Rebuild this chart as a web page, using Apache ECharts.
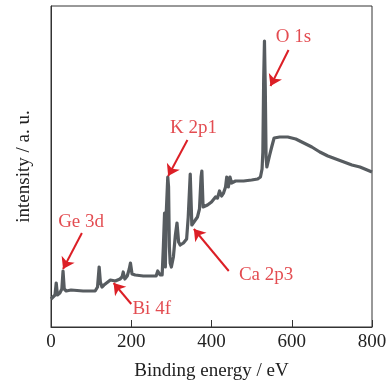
<!DOCTYPE html>
<html>
<head>
<meta charset="utf-8">
<script src="https://cdn.jsdelivr.net/npm/echarts@6/dist/echarts.min.js"></script>
<style>
  html, body { margin: 0; padding: 0; background: #fff; }
  #chart { width: 390px; height: 383px; }
</style>
</head>
<body>
<div id="chart"></div>
<script>
// XPS survey spectrum
const energy = [
  0, 5, 10, 13, 16, 22, 27, 30, 33, 38, 50, 80, 110, 116, 120, 123, 127, 132,
  148, 160, 172, 177, 180, 184, 190, 195, 198, 202, 210, 230, 250, 262, 266, 268,
  272, 277, 280, 283, 285, 287, 289, 291, 293, 295, 297, 300, 305, 310, 314, 318,
  322, 330, 338, 342, 347, 351, 355, 365, 370, 374, 376, 379, 383, 390, 400, 410,
  415, 420, 425, 430, 435, 438, 442, 446, 450, 460, 480, 500, 515, 522, 526, 528,
  530, 532, 534, 536, 538, 545, 550, 556, 570, 590, 610, 630, 650, 670, 690, 710,
  730, 750, 770, 800
];
const intensity = [
  28, 30, 32, 44, 32, 34, 38, 56, 38, 36, 37, 36, 36, 40, 60, 45, 40, 42,
  47, 46, 48, 50, 55, 48, 51, 58, 64, 53, 52, 51, 51, 51, 56, 57,
  52, 52, 80, 114, 60, 112, 110, 150, 140, 80, 64, 60, 70, 92, 104, 85,
  82, 84, 88, 110, 153, 102, 100, 110, 118, 150, 156, 120, 119, 122, 125, 130,
  129, 136, 131, 134, 140, 150, 140, 150, 144, 146, 146, 147, 148, 150, 158, 175,
  247, 286, 240, 170, 160, 172, 180, 189, 190, 190, 188, 184, 180, 175, 171, 168,
  165, 162, 160, 155
];

// peak annotations: label, label position, arrow start, arrow end (eV, a.u.)
const peakNames = ['O 1s', 'K 2p1', 'Ge 3d', 'Ca 2p3', 'Bi 4f'];
const labelPos = [[604, 290], [355, 199], [75, 105], [536, 52], [251, 18]];
const arrowFrom = [[592, 277], [340, 187], [77, 94], [443, 56], [200, 23]];
const arrowTo = [[547, 241], [292, 151], [30, 58], [356, 98], [156, 44]];

const xTicks = [0, 200, 400, 600, 800];

const FONT = "'Liberation Serif', 'Times New Roman', serif";
const RED = '#dc1f26';
const AXIS = '#333';

const chart = echarts.init(document.getElementById('chart'));

const spectrum = energy.map((e, i) => [e, intensity[i]]);

const option = {
  animation: false,
  grid: {
    left: 51, right: 18, top: 6, bottom: 56,
    outerBoundsMode: 'none',
    containLabel: false,
    show: true, borderColor: AXIS, borderWidth: 1
  },
  xAxis: {
    type: 'value',
    min: 0, max: 800, interval: 200,
    name: 'Binding energy / eV',
    nameLocation: 'middle',
    nameGap: 35,
    nameTextStyle: { fontFamily: FONT, fontSize: 19, color: '#222' },
    axisLine: { lineStyle: { color: AXIS, width: 1 } },
    axisTick: { inside: true, length: 7, lineStyle: { color: AXIS } },
    axisLabel: {
      fontFamily: FONT, fontSize: 19, color: '#222', margin: 6,
      formatter: v => xTicks.includes(v) ? String(v) : ''
    },
    splitLine: { show: false }
  },
  yAxis: {
    type: 'value',
    min: 0, max: 321,
    name: 'intensity / a. u.',
    nameLocation: 'middle',
    nameGap: 17,
    nameTextStyle: { fontFamily: FONT, fontSize: 19, color: '#222' },
    axisLine: { show: true, lineStyle: { color: AXIS, width: 1 } },
    axisTick: { show: false },
    axisLabel: { show: false },
    splitLine: { show: false }
  },
  series: [
    {
      type: 'line',
      data: spectrum,
      showSymbol: false,
      lineStyle: { color: '#575c60', width: 3.2, join: 'round' },
      z: 2
    },
    {
      // arrows pointing at peaks
      type: 'line',
      data: [],
      markLine: {
        silent: true,
        symbol: ['none', 'arrow'],
        symbolSize: 11,
        label: { show: false },
        lineStyle: { color: RED, width: 2, type: 'solid' },
        data: arrowFrom.map((p, i) => [{ coord: p }, { coord: arrowTo[i] }])
      },
      z: 3
    },
    {
      // peak labels
      type: 'scatter',
      symbolSize: 0,
      data: labelPos.map((p, i) => ({ value: p, name: peakNames[i] })),
      label: {
        show: true,
        position: 'inside',
        formatter: '{b}',
        fontFamily: FONT,
        fontSize: 19,
        color: RED
      },
      z: 4
    }
  ]
};

chart.setOption(option);
</script>
</body>
</html>
